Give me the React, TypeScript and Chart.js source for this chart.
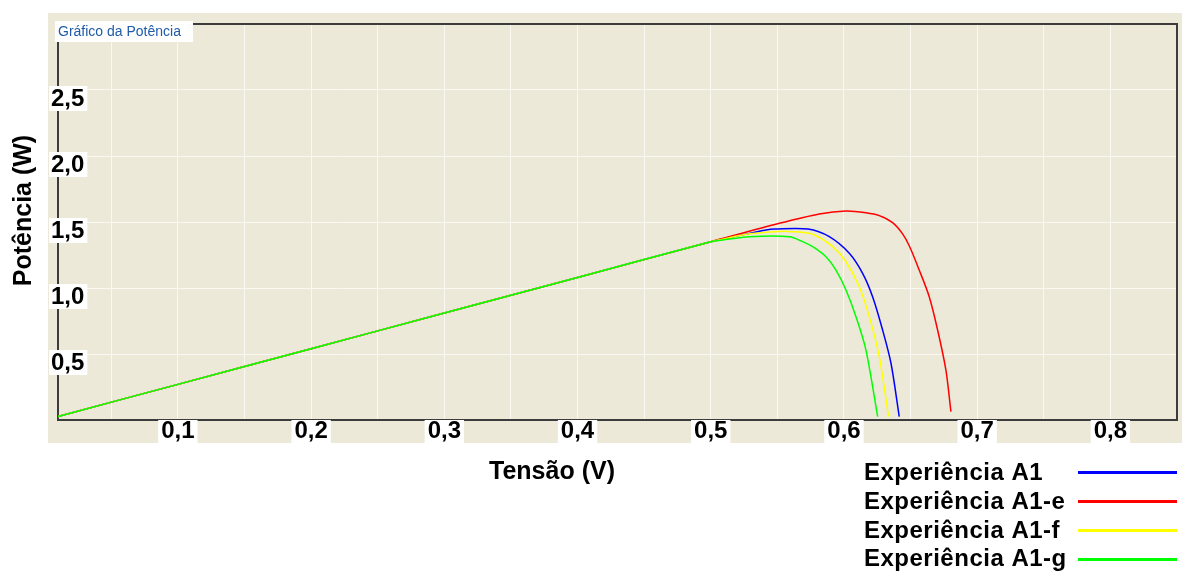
import React, { useEffect, useRef } from 'react';
import { Chart, registerables } from 'chart.js';

Chart.register(...registerables);

const chartTitle = 'Gráfico da Potência';
const xAxisTitle = 'Tensão (V)';
const yAxisTitle = 'Potência (W)';

const seriesNames = ['Experiência A1', 'Experiência A1-e', 'Experiência A1-f', 'Experiência A1-g'];
const seriesColors = ['#0000FF', '#FF0000', '#FFFF00', '#00FF00'];
const drawOrder = [3, 2, 1, 0];

// Tensão (V) and Potência (W)
const voltsA1 = [0.01, 0.1, 0.2, 0.3, 0.4, 0.5, 0.52, 0.5415, 0.548, 0.573, 0.589, 0.604, 0.614, 0.6215, 0.629, 0.6353, 0.6415];
const powerA1 = [0.027, 0.27, 0.54, 0.81, 1.08, 1.35, 1.395, 1.44, 1.447, 1.447, 1.389, 1.263, 1.111, 0.934, 0.682, 0.43, 0.025];

const voltsA1e = [0.01, 0.1, 0.2, 0.3, 0.4, 0.5, 0.5515, 0.5815, 0.6015, 0.6165, 0.6265, 0.6365, 0.644, 0.649, 0.6565, 0.664, 0.6703, 0.6765, 0.6803];
const powerA1e = [0.027, 0.27, 0.54, 0.81, 1.08, 1.35, 1.49, 1.561, 1.583, 1.57, 1.548, 1.495, 1.41, 1.32, 1.136, 0.934, 0.682, 0.379, 0.063];

const voltsA1f = [0.01, 0.1, 0.2, 0.3, 0.4, 0.5, 0.509, 0.5265, 0.5478, 0.5615, 0.5765, 0.5915, 0.6015, 0.6115, 0.619, 0.6265, 0.6335];
const powerA1f = [0.027, 0.27, 0.54, 0.81, 1.08, 1.35, 1.369, 1.407, 1.427, 1.427, 1.407, 1.313, 1.199, 1.01, 0.783, 0.48, 0.025];

const voltsA1g = [0.01, 0.1, 0.2, 0.3, 0.4, 0.5, 0.509, 0.529, 0.559, 0.569, 0.5765, 0.5865, 0.594, 0.6015, 0.609, 0.6165, 0.6253];
const powerA1g = [0.027, 0.27, 0.54, 0.81, 1.08, 1.35, 1.364, 1.389, 1.389, 1.351, 1.313, 1.237, 1.136, 0.985, 0.783, 0.53, 0.025];

const seriesVolts = [voltsA1, voltsA1e, voltsA1f, voltsA1g];
const seriesPower = [powerA1, powerA1e, powerA1f, powerA1g];

// axis settings
const xMin = 0.01;
const xMax = 0.85;
const xStep = 0.05;
const yMin = 0;
const yMax = 3;
const yStep = 0.5;

const FONT = 'Arial, "Liberation Sans", sans-serif';

function fmt(v: number) {
  return v.toFixed(1).replace('.', ',');
}
function isXLabel(v: number) {
  const h = Math.round(v * 100);
  return h % 10 === 0 && h >= 10 && h <= 80;
}
function isYLabel(v: number) {
  const t = Math.round(v * 10);
  return t >= 5 && t <= 25;
}

const decorPlugin = {
  id: 'decor',
  beforeDraw(chart: any) {
    const { ctx, chartArea: a } = chart;
    ctx.save();
    ctx.fillStyle = '#ECE9D8';
    ctx.fillRect(a.left - 10, a.top - 11, chart.width - (a.left - 10), a.bottom + 23 - (a.top - 11));
    ctx.restore();
  },
  beforeDatasetsDraw(chart: any) {
    const { ctx, chartArea: a } = chart;
    ctx.save();
    ctx.strokeStyle = '#3C3C3C';
    ctx.lineWidth = 2;
    ctx.beginPath();
    ctx.moveTo(a.left, a.top);
    ctx.lineTo(a.right, a.top);
    ctx.lineTo(a.right, a.bottom);
    ctx.stroke();
    ctx.restore();
  },
  afterDraw(chart: any) {
    const { ctx, chartArea: a } = chart;
    ctx.save();
    // chart title box
    ctx.fillStyle = '#FFFFFF';
    ctx.fillRect(a.left - 3, a.top - 3, 138, 21);
    ctx.font = '14px ' + FONT;
    ctx.fillStyle = '#1F5BA8';
    ctx.textAlign = 'left';
    ctx.textBaseline = 'alphabetic';
    ctx.fillText(chartTitle, a.left, a.top + 12);

    // axis titles
    ctx.fillStyle = '#000000';
    ctx.font = 'bold 25px ' + FONT;
    ctx.textAlign = 'center';
    ctx.fillText(xAxisTitle, 552, 479);
    ctx.save();
    ctx.translate(31, 210.5);
    ctx.rotate(-Math.PI / 2);
    ctx.fillText(yAxisTitle, 0, 0);
    ctx.restore();

    // legend
    ctx.textAlign = 'left';
    ctx.font = 'bold 24px ' + FONT;
    try {
      (ctx as any).letterSpacing = '0.5px';
    } catch (e) {}
    chart.data.datasets.forEach((ds: any, i: number) => {
      ctx.fillStyle = '#000000';
      ctx.fillText(ds.label, 864, 480 + i * 28.8);
      ctx.strokeStyle = ds.borderColor;
      ctx.lineWidth = 3;
      ctx.beginPath();
      const ly = 472.5 + i * 29;
      ctx.moveTo(1078, ly);
      ctx.lineTo(1177, ly);
      ctx.stroke();
    });
    ctx.restore();
  },
};

export default function App() {
  const ref = useRef<HTMLCanvasElement | null>(null);

  useEffect(() => {
    const canvas = ref.current;
    if (!canvas) return;
    const datasets = seriesNames.map((name, i) => ({
      label: name,
      data: seriesVolts[i].map((v, k) => ({ x: v, y: seriesPower[i][k] })),
      borderColor: seriesColors[i],
      backgroundColor: seriesColors[i],
      showLine: true,
      pointRadius: 0,
      borderWidth: 1.5,
      order: drawOrder[i],
      tension: 0.3,
    }));

    const chart = new Chart(canvas, {
      type: 'scatter',
      data: { datasets } as any,
      options: {
        responsive: false,
        maintainAspectRatio: false,
        animation: false,
        devicePixelRatio: 1,
        layout: { padding: { top: 24, right: 5, left: 0, bottom: 0 } },
        plugins: {
          legend: { display: false },
          tooltip: { enabled: false },
          title: { display: false },
        },
        scales: {
          x: {
            type: 'linear',
            position: 'bottom',
            min: xMin,
            max: xMax,
            afterFit: (s: any) => {
              s.height = 155;
            },
            grid: {
              color: (c: any) => (c.tick && Math.round(c.tick.value * 100) >= 85 ? 'rgba(0,0,0,0)' : '#F9F8F3'),
              lineWidth: 1,
              drawTicks: false,
            },
            border: { color: '#3C3C3C', width: 2 },
            ticks: {
              stepSize: xStep,
              includeBounds: false,
              autoSkip: false,
              maxRotation: 0,
              minRotation: 0,
              padding: -1,
              color: '#000000',
              font: { family: FONT, size: 24, weight: 'bold', lineHeight: 1 },
              callback: (v: any) => (isXLabel(Number(v)) ? fmt(Number(v)) : ''),
              showLabelBackdrop: true,
              backdropColor: (c: any) => (c.tick && isXLabel(c.tick.value) ? '#FFFFFF' : 'rgba(0,0,0,0)'),
              backdropPadding: { top: 1, bottom: 0, left: 3, right: 3 },
            },
          },
          y: {
            type: 'linear',
            position: 'left',
            min: yMin,
            max: yMax,
            afterFit: (s: any) => {
              s.width = 58;
            },
            grid: {
              color: (c: any) => {
                const t = c.tick ? Math.round(c.tick.value * 10) : 0;
                return t <= 0 || t >= 30 ? 'rgba(0,0,0,0)' : '#F9F8F3';
              },
              lineWidth: 1,
              drawTicks: false,
            },
            border: { color: '#3C3C3C', width: 2 },
            ticks: {
              stepSize: yStep,
              mirror: true,
              padding: -7,
              labelOffset: 9,
              color: '#000000',
              font: { family: FONT, size: 24, weight: 'bold', lineHeight: 1 },
              callback: (v: any) => (isYLabel(Number(v)) ? fmt(Number(v)) : ''),
              showLabelBackdrop: true,
              backdropColor: (c: any) => (c.tick && isYLabel(c.tick.value) ? '#FFFFFF' : 'rgba(0,0,0,0)'),
              backdropPadding: { top: 1, bottom: 0, left: 2, right: 3 },
            },
          },
        },
      } as any,
      plugins: [decorPlugin],
    });
    return () => chart.destroy();
  }, []);

  return (
    <div style={{ position: 'absolute', left: 0, top: 0, width: 1182, height: 575, background: '#FFFFFF' }}>
      <canvas ref={ref} width={1182} height={575} style={{ display: 'block', width: 1182, height: 575 }} />
    </div>
  );
}
